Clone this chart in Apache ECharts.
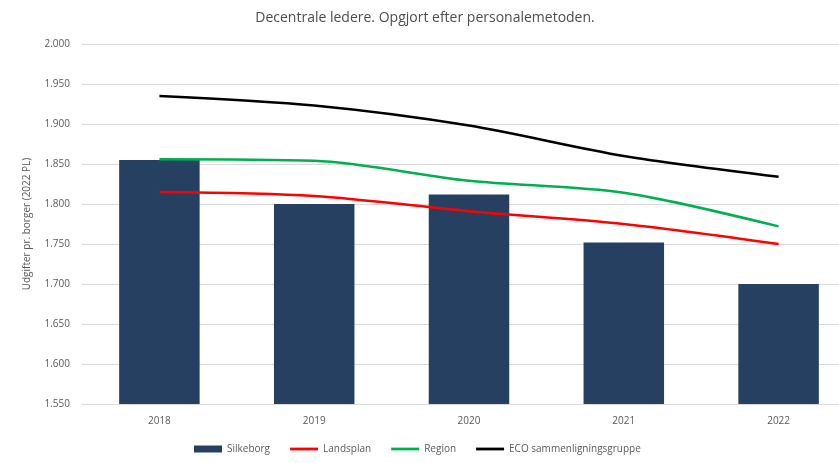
<!DOCTYPE html>
<html>
<head>
<meta charset="utf-8">
<script src="https://cdn.jsdelivr.net/npm/echarts@6/dist/echarts.min.js"></script>
<style>
  * { margin: 0; padding: 0; }
  body { background: #fff; overflow: hidden; }
</style>
</head>
<body>
<!-- the original is cut off on the right, so the canvas is a bit wider than the window -->
<div id="main" style="width: 856px;height: 463px;"></div>
<script>
// data
var years = ['2018', '2019', '2020', '2021', '2022'];
var silkeborg = [1855, 1800, 1812, 1752, 1700];
var landsplan = [1815, 1810, 1791, 1775, 1750];
var region = [1856, 1854, 1829, 1814, 1772];
var eco = [1935, 1923, 1898, 1860, 1834];

function fmt(v) {
  // 1850 -> 1.850
  var s = String(v);
  return s.length > 3 ? s.slice(0, s.length - 3) + '.' + s.slice(-3) : s;
}

var lineIcon = 'path://M0,0 H30 V3 H0 Z';
var font = 'Open Sans';

var myChart = echarts.init(document.getElementById('main'));
myChart.setOption({
  animation: false,
  textStyle: { fontFamily: font },
  title: {
    text: 'Decentrale ledere. Opgjort efter personalemetoden.',
    left: 420,
    textAlign: 'center',
    top: 6,
    textStyle: { fontSize: 14, fontWeight: 'normal', color: '#4d4d4d', fontFamily: font }
  },
  legend: {
    bottom: 4,
    left: 189,
    itemWidth: 28,
    itemHeight: 7,
    itemGap: 20,
    textStyle: { fontSize: 10, color: '#595959' },
    data: [
      { name: 'Silkeborg', icon: 'rect' },
      { name: 'Landsplan', icon: lineIcon },
      { name: 'Region', icon: lineIcon },
      { name: 'ECO sammenligningsgruppe', icon: lineIcon }
    ]
  },
  grid: { left: 82, right: 0, top: 44, bottom: 59 },
  xAxis: {
    type: 'category',
    data: years,
    axisTick: { show: false },
    axisLine: { lineStyle: { color: '#d9d9d9' } },
    axisLabel: { color: '#595959', fontSize: 10, margin: 12 }
  },
  yAxis: {
    type: 'value',
    min: 1550,
    max: 2000,
    interval: 50,
    name: 'Udgifter pr. borger (2022 PL)',
    nameLocation: 'middle',
    nameGap: 50,
    nameTextStyle: { color: '#595959', fontSize: 10 },
    axisLine: { show: false },
    axisTick: { show: false },
    axisLabel: { color: '#595959', fontSize: 10, margin: 12, formatter: fmt },
    splitLine: { lineStyle: { color: '#d9d9d9' } }
  },
  series: [
    {
      name: 'Silkeborg',
      type: 'bar',
      barWidth: '52%',
      itemStyle: { color: '#264061' },
      data: silkeborg
    },
    {
      name: 'Landsplan',
      type: 'line',
      smooth: 0.3,
      symbol: 'none',
      lineStyle: { color: '#ff0000', width: 2.5 },
      itemStyle: { color: '#ff0000' },
      data: landsplan
    },
    {
      name: 'Region',
      type: 'line',
      smooth: 0.3,
      symbol: 'none',
      lineStyle: { color: '#00b050', width: 2.5 },
      itemStyle: { color: '#00b050' },
      data: region
    },
    {
      name: 'ECO sammenligningsgruppe',
      type: 'line',
      smooth: 0.3,
      symbol: 'none',
      lineStyle: { color: '#000000', width: 2.5 },
      itemStyle: { color: '#000000' },
      data: eco
    }
  ]
});
</script>
</body>
</html>
